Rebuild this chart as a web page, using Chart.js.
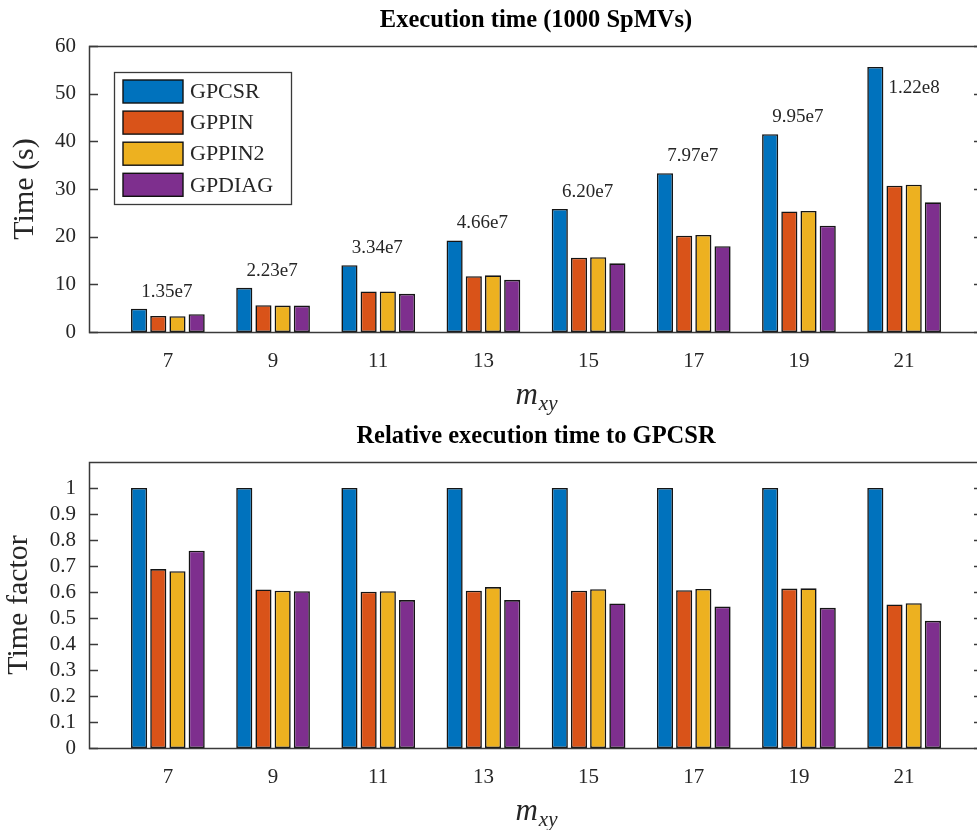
<!DOCTYPE html>
<html>
<head>
<meta charset="utf-8">
<script src="https://cdn.jsdelivr.net/npm/chart.js@4.4.1/dist/chart.umd.min.js"></script>
<style>
  html, body { margin: 0; padding: 0; background: #fff; overflow: hidden; width: 977px; height: 830px; }
  .panel { position: absolute; left: 0; width: 1000px; height: 415px; }
  #topPanel { top: 0; }
  #bottomPanel { top: 416px; }
</style>
</head>
<body>
<div class="panel" id="topPanel"><canvas id="timeChart" width="1000" height="415"></canvas></div>
<div class="panel" id="bottomPanel"><canvas id="ratioChart" width="1000" height="415"></canvas></div>
<script>
// Grid size m_xy and the four storage formats
const mxy = [7, 9, 11, 13, 15, 17, 19, 21];
const seriesNames = ['GPCSR', 'GPPIN', 'GPPIN2', 'GPDIAG'];
const seriesColors = ['#0072BD', '#D95319', '#EDB120', '#7E2F8E'];

// Execution time of 1000 SpMVs, seconds
const timeGPCSR  = [4.9, 9.26, 14.0, 19.2, 25.8, 33.3, 41.5, 55.6];
const timeGPPIN  = [3.37, 5.62, 8.5, 11.7, 15.6, 20.2, 25.3, 30.7];
const timeGPPIN2 = [3.3, 5.55, 8.5, 11.9, 15.7, 20.35, 25.4, 30.9];
const timeGPDIAG = [3.73, 5.55, 8.0, 10.95, 14.4, 18.0, 22.3, 27.2];

// Number of nonzeros, printed above each group
const nnzLabels = ['1.35e7', '2.23e7', '3.34e7', '4.66e7', '6.20e7', '7.97e7', '9.95e7', '1.22e8'];

// Time relative to GPCSR
const relGPCSR  = [1, 1, 1, 1, 1, 1, 1, 1];
const relGPPIN  = [0.688, 0.610, 0.601, 0.605, 0.605, 0.607, 0.613, 0.552];
const relGPPIN2 = [0.680, 0.605, 0.603, 0.619, 0.611, 0.612, 0.614, 0.557];
const relGPDIAG = [0.759, 0.603, 0.569, 0.569, 0.556, 0.544, 0.539, 0.489];

// Axis ticks
const timeTicks = [0, 10, 20, 30, 40, 50, 60];
const factorTicks = [0, 0.1, 0.2, 0.3, 0.4, 0.5, 0.6, 0.7, 0.8, 0.9, 1];

const SERIF = "'Liberation Serif', 'Times New Roman', serif";
const INK = '#262626';

// Boxed axes with inward ticks on left and right
const boxPlugin = {
  id: 'box',
  afterDatasetsDraw(chart) {
    const { ctx, chartArea: a, scales: { y } } = chart;
    ctx.save();
    ctx.strokeStyle = '#3a3a3a';
    ctx.lineWidth = 1.5;
    ctx.beginPath();
    y.ticks.forEach(t => {
      const py = Math.round(y.getPixelForValue(t.value)) + 0.5;
      ctx.moveTo(a.left, py); ctx.lineTo(a.left + 9, py);
      ctx.moveTo(a.right, py); ctx.lineTo(a.right - 9, py);
    });
    ctx.stroke();
    ctx.strokeRect(Math.round(a.left) + 0.5, Math.round(a.top) + 0.5,
                   Math.round(a.right - a.left), Math.round(a.bottom - a.top));
    ctx.restore();
  }
};

// x-axis title: italic m with subscript xy
const xTitlePlugin = {
  id: 'xTitle',
  afterDraw(chart) {
    const { ctx, chartArea: a } = chart;
    ctx.save();
    ctx.fillStyle = INK;
    ctx.textBaseline = 'alphabetic';
    ctx.textAlign = 'left';
    const mFont = "italic 31px " + SERIF;
    const sFont = "italic 21px " + SERIF;
    ctx.font = mFont; const mw = ctx.measureText('m').width;
    ctx.font = sFont; const sw = ctx.measureText('xy').width;
    const x0 = (a.left + a.right) / 2 - (mw + sw) / 2;
    const base = a.bottom + 72;
    ctx.font = mFont; ctx.fillText('m', x0, base);
    ctx.font = sFont; ctx.fillText('xy', x0 + mw + 1, base + 6);
    ctx.restore();
  }
};

// Legend boxed inside the upper-left of the plot
const insideLegendPlugin = {
  id: 'insideLegend',
  afterDraw(chart, args, opts) {
    if (!opts.show) return;
    const { ctx, chartArea: a } = chart;
    const bx = a.left + 25, by = a.top + 26, bw = 177, bh = 132;
    ctx.save();
    ctx.fillStyle = '#fff';
    ctx.fillRect(bx, by, bw, bh);
    ctx.strokeStyle = '#3a3a3a';
    ctx.lineWidth = 1.3;
    ctx.strokeRect(bx + 0.5, by + 0.5, bw, bh);
    ctx.font = "22px " + SERIF;
    ctx.textBaseline = 'middle';
    ctx.textAlign = 'left';
    chart.data.datasets.forEach((ds, i) => {
      const sy = by + 8 + i * 31.1;
      ctx.fillStyle = ds.backgroundColor;
      ctx.fillRect(bx + 9, sy, 60, 23);
      ctx.strokeStyle = '#111';
      ctx.lineWidth = 1.4;
      ctx.strokeRect(bx + 9, sy, 60, 23);
      ctx.fillStyle = INK;
      ctx.fillText(ds.label, bx + 76, sy + 12.5);
    });
    ctx.restore();
  }
};

// Nonzero counts above the GPCSR bars
const nnzPlugin = {
  id: 'nnz',
  afterDatasetsDraw(chart, args, opts) {
    if (!opts.labels) return;
    const { ctx, scales: { x, y } } = chart;
    const ref = chart.data.datasets[0].data;
    ctx.save();
    ctx.font = "19px " + SERIF;
    ctx.fillStyle = INK;
    ctx.textAlign = 'center';
    ctx.textBaseline = 'middle';
    opts.labels.forEach((txt, i) => {
      const last = i === opts.labels.length - 1;
      const px = x.getPixelForValue(ref[i].x) + (last ? 10 : -1);
      const py = y.getPixelForValue(ref[i].y) + (last ? 21 : -17);
      ctx.fillText(txt, px, py);
    });
    ctx.restore();
  }
};

function fmtTick(v) {
  return String(Number(v.toFixed(2)));
}

function makeChart(id, titleText, yTitle, seriesData, yMax, yTicks, yTitlePad, showLegend, labels) {
  const datasets = seriesNames.map((name, k) => ({
    label: name,
    data: mxy.map((m, i) => ({ x: m, y: seriesData[k][i] })),
    backgroundColor: seriesColors[k],
    borderColor: '#151515',
    borderWidth: 1.6,
    borderSkipped: false,
    categoryPercentage: 0.73,
    barPercentage: 0.84
  }));
  return new Chart(document.getElementById(id), {
    type: 'bar',
    data: { datasets },
    options: {
      responsive: false,
      animation: false,
      devicePixelRatio: 1,
      layout: { padding: { left: 0, right: 17, top: 0, bottom: 0 } },
      plugins: {
        legend: { display: false },
        tooltip: { enabled: false },
        title: {
          display: true,
          text: titleText,
          fullSize: false,
          color: '#000',
          font: { family: SERIF, size: 24.5, weight: 'bold', lineHeight: 1.2 },
          padding: { top: 6, bottom: 10.6 }
        },
        insideLegend: { show: showLegend },
        nnz: { labels: labels }
      },
      scales: {
        x: {
          type: 'linear',
          offset: false,
          min: 5.5,
          max: 22.5,
          grid: { display: false, drawTicks: false, offset: false },
          border: { display: false },
          afterBuildTicks: s => { s.ticks = mxy.map(v => ({ value: v })); },
          afterFit: s => { s.height = 83; },
          ticks: {
            autoSkip: false, maxRotation: 0,
            color: INK, padding: 17,
            font: { family: SERIF, size: 21 },
            callback: v => String(v)
          }
        },
        y: {
          min: 0,
          max: yMax,
          grid: { display: false, drawTicks: false },
          border: { display: false },
          afterBuildTicks: s => { s.ticks = yTicks.map(v => ({ value: v })); },
          afterFit: s => { s.width = 89; },
          ticks: {
            color: INK, padding: 13,
            font: { family: SERIF, size: 21 },
            callback: v => fmtTick(v)
          },
          title: {
            display: true, text: yTitle, color: INK,
            font: { family: SERIF, size: 30, lineHeight: 1.2 },
            padding: { top: yTitlePad, bottom: 0 }
          }
        }
      }
    },
    plugins: [boxPlugin, xTitlePlugin, insideLegendPlugin, nnzPlugin]
  });
}

makeChart('timeChart', 'Execution time (1000 SpMVs)', 'Time (s)',
  [timeGPCSR, timeGPPIN, timeGPPIN2, timeGPDIAG], 60, timeTicks, 7.5, true, nnzLabels);

makeChart('ratioChart', 'Relative execution time to GPCSR', 'Time factor',
  [relGPCSR, relGPPIN, relGPPIN2, relGPDIAG], 1.1, factorTicks, 1.5, false, null);
</script>
</body>
</html>
